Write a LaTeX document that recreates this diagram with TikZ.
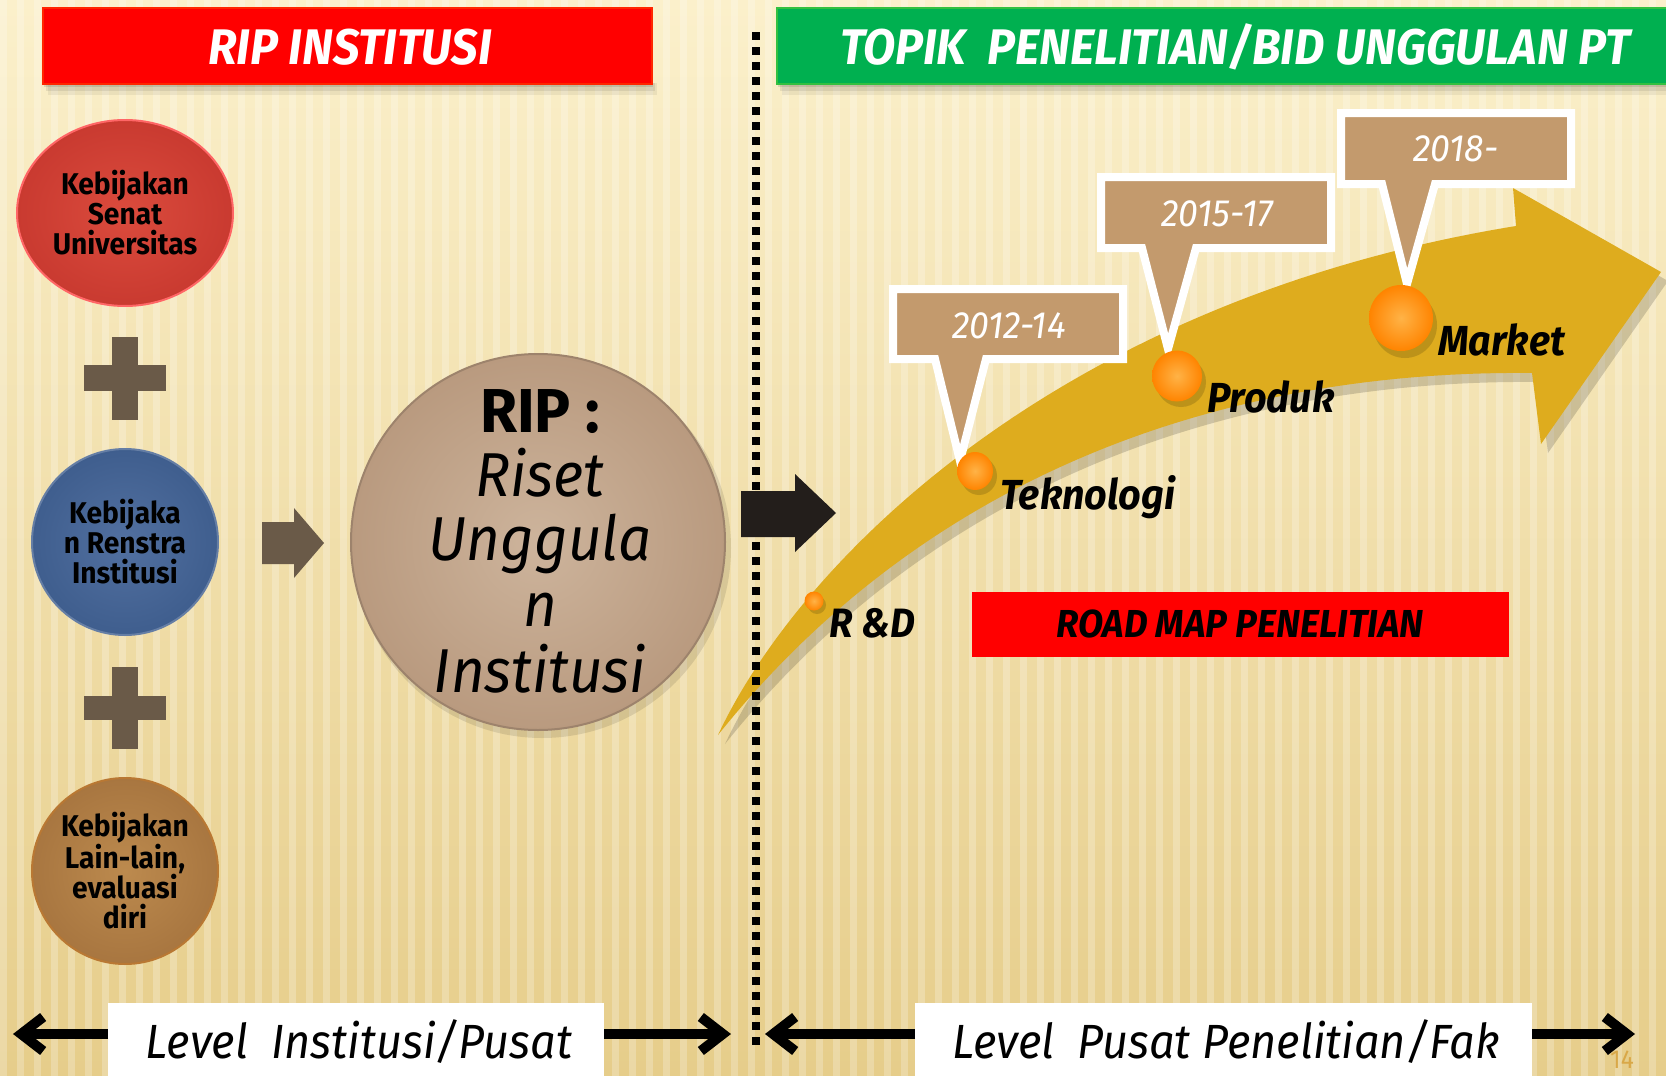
\documentclass[tikz,border=0pt]{standalone}
\usepackage{fontspec}
\setmainfont{Fira Sans}
\newfontfamily\condb[FakeStretch=0.94]{Fira Sans}
\newfontfamily\condu[FakeStretch=0.97]{Fira Sans}
\newfontfamily\plainf[FakeStretch=0.94]{Fira Sans}
\usetikzlibrary{arrows.meta,shapes.geometric}
\definecolor{bgtop}{HTML}{FBF0CB}
\definecolor{bgbot}{HTML}{E6CD8A}
\definecolor{hdrred}{HTML}{FF0000}
\definecolor{hdrgreen}{HTML}{00B050}
\definecolor{plusc}{HTML}{6A5A48}
\definecolor{darkarr}{HTML}{231E1B}
\definecolor{goldc}{HTML}{DEAC1E}
\definecolor{tanc}{HTML}{C39A6D}
\definecolor{ripin}{HTML}{CDB49C}
\definecolor{ripout}{HTML}{B99A7F}
\definecolor{redin}{HTML}{DB4B3D}
\definecolor{redout}{HTML}{C93A30}
\definecolor{bluein}{HTML}{5270A0}
\definecolor{blueout}{HTML}{3F5E8E}
\definecolor{brownin}{HTML}{BC8A4E}
\definecolor{brownout}{HTML}{A87640}
\definecolor{dotin}{HTML}{FFB347}
\definecolor{dotout}{HTML}{FF8400}
\definecolor{pagenum}{HTML}{D9A848}
\tikzset{
  hdr/.style={anchor=north west, inner sep=0pt, line width=1.5pt},
  bi/.style={font=\condb\bfseries\itshape\fontsize{#1}{#1}\selectfont},
  bu/.style={font=\condu\bfseries\fontsize{#1}{#1}\selectfont},
  it/.style={font=\plainf\itshape\fontsize{#1}{#1}\selectfont},
  policy/.style={ellipse, minimum width=186pt, minimum height=186pt, inner sep=0pt,
     align=center, font=\condb\bfseries\fontsize{30}{30}\selectfont, line width=2pt},
  orb/.style={ellipse, inner sep=0pt, inner color=dotin, outer color=dotout},
  callout/.style={fill=tanc, draw=white, line width=8pt, line join=miter},
  lvlbox/.style={fill=white, inner sep=0pt, anchor=north west},
  barrow/.style={line width=10pt, -{Straight Barb[length=22pt,width=34pt]}},
}
\begin{document}
\begin{tikzpicture}[x=1pt,y=-1pt]
\useasboundingbox (0,0) rectangle (1666,1076);
% background
\shade[top color=bgtop, bottom color=bgbot] (0,0) rectangle (1666,1076);
\foreach \i in {0,...,98} {
  \fill[white,opacity=0.24] ({17*\i},0) rectangle ({17*\i+7},1076);
}
% header shadows
\foreach \k/\o in {4/0.10,8/0.08,12/0.06} {
  \fill[black,opacity=\o] ({42+\k/2},83) rectangle ({651+\k/2},{83+\k});
  \fill[black,opacity=\o] ({776+\k/2},83) rectangle (1666,{83+\k});
}
% headers
\node[hdr, fill=hdrred, draw=red!70!orange, minimum width=609pt, minimum height=76pt] (riphdr) at (42,7) {};
\node[bi=50, white] (riptitle) at (350,47) {RIP INSTITUSI};
\node[hdr, fill=hdrgreen, draw=hdrgreen!80!yellow, minimum width=900pt, minimum height=76pt] (topikhdr) at (776,7) {};
\node[bi=50, white] (topiktitle) at (1235,47) {TOPIK\ \ PENELITIAN/BID UNGGULAN PT};
% policy ellipses
\node[policy, minimum width=216pt, inner color=redin, outer color=redout, draw=red!60!white] (senat) at (125,213) {Kebijakan\\Senat\\Universitas};
\node[policy, inner color=bluein, outer color=blueout, draw=blueout!80!white] (renstra) at (125,542) {Kebijaka\\n Renstra\\Institusi};
\node[policy, inner color=brownin, outer color=brownout, draw=brownout!80!orange] (lain) at (125,871) {Kebijakan\\Lain-lain,\\evaluasi\\diri};
% plus signs
\fill[plusc] (112,337) rectangle (138,420);
\fill[plusc] (84,365) rectangle (166,391);
\fill[plusc] (112,667) rectangle (138,749);
\fill[plusc] (84,696) rectangle (166,720);
% small arrow
\fill[plusc] (262,522) -- (294,522) -- (294,508) -- (324,543) -- (294,578) -- (294,564) -- (262,564) -- cycle;
% RIP circle
\fill[black,opacity=0.10] (542,548) ellipse [x radius=189pt, y radius=190pt];
\node[ellipse, minimum width=374pt, minimum height=376pt, inner sep=0pt, inner color=ripin, outer color=ripout, draw=ripout!85!black, line width=2pt] (rip) at (538,542) {};
\node[bu=62, anchor=base] (ripA) at (540,432) {RIP :};
\node[it=62, anchor=base] (ripB) at (540,496) {Riset};
\node[it=62, anchor=base] (ripC) at (540,560) {Unggula};
\node[it=62, anchor=base] (ripD) at (540,626) {n};
\node[it=62, anchor=base] (ripE) at (540,692) {Institusi};
% gold arrow shadow
\begin{scope}[shift={(7,9)}]
\fill[black,opacity=0.16] (718,735) .. controls (800,560) and (1060,300) .. (1516,226) -- (1513,188) -- (1661,272) -- (1541,444) -- (1532,373) .. controls (1230,370) and (930,470) .. (718,735) -- cycle;
\end{scope}
\fill[goldc] (718,735) .. controls (800,560) and (1060,300) .. (1516,226) -- (1513,188) -- (1661,272) -- (1541,444) -- (1532,373) .. controls (1230,370) and (930,470) .. (718,735) -- cycle;
% dotted divider
\coordinate (divtop) at (756,32);
\coordinate (divbot) at (756,1047);
\draw[line width=8pt, dash pattern=on 8pt off 7pt] (divtop) -- (divbot);
% black arrow
\fill[darkarr] (741,491) -- (795,491) -- (795,474) -- (836,513) -- (795,552) -- (795,537) -- (741,537) -- cycle;
% callouts
\draw[callout] (893,289) -- (1123,289) -- (1123,359) -- (986,359) -- (960,461) -- (935,359) -- (893,359) -- cycle;
\draw[callout] (1101,177) -- (1331,177) -- (1331,248) -- (1196,248) -- (1168,349) -- (1142,248) -- (1101,248) -- cycle;
\draw[callout] (1341,113) -- (1571,113) -- (1571,184) -- (1435,184) -- (1407,284) -- (1382,184) -- (1341,184) -- cycle;
\node[it=38, white, anchor=base] (y1) at (1009,338) {2012-14};
\node[it=38, white, anchor=base] (y2) at (1217,226) {2015-17};
\node[it=38, white, anchor=base] (y3) at (1456,161) {2018-};
% orbs
\fill[black,opacity=0.15] (817,605) circle [radius=9pt];
\fill[black,opacity=0.15] (979,476) ellipse [x radius=18pt, y radius=19pt];
\fill[black,opacity=0.15] (1181,382) ellipse [x radius=25pt, y radius=25pt];
\fill[black,opacity=0.15] (1405,325) ellipse [x radius=32pt, y radius=33pt];
\node[orb, minimum width=19pt, minimum height=19pt] (oRD) at (814,601) {};
\node[orb, minimum width=36pt, minimum height=38pt] (oTek) at (975,471) {};
\node[orb, minimum width=50pt, minimum height=51pt] (oPro) at (1177,376) {};
\node[orb, minimum width=64pt, minimum height=66pt] (oMar) at (1401,318) {};
% labels
\node[bi=41, anchor=base west, inner sep=0pt] (lRD) at (829,637) {R \&D};
\node[bi=42, anchor=base west, inner sep=0pt] (lTek) at (1000,509) {Teknologi};
\node[bi=42, anchor=base west, inner sep=0pt] (lPro) at (1207,412) {Produk};
\node[bi=42, anchor=base west, inner sep=0pt] (lMar) at (1438,355) {Market};
% road map box
\node[fill=hdrred, minimum width=537pt, minimum height=65pt, inner sep=0pt, bi=39] (roadmap) at (1240,624) {ROAD MAP PENELITIAN};
% bottom level boxes
\node[lvlbox, minimum width=496pt, minimum height=80pt] (lvl1) at (108,1003) {};
\node[it=48, anchor=base] (lvl1t) at (359,1058) {Level\ \ Institusi/Pusat};
\node[lvlbox, minimum width=617pt, minimum height=80pt] (lvl2) at (915,1003) {};
\node[it=48, anchor=base] (lvl2t) at (1226,1058) {Level\ \ Pusat Penelitian/Fak};
\coordinate (a1l) at (13,1034);
\coordinate (a1s) at (108,1034);
\coordinate (a1e) at (604,1034);
\coordinate (a1r) at (731,1034);
\coordinate (a2l) at (765,1034);
\coordinate (a2s) at (915,1034);
\coordinate (a2e) at (1532,1034);
\coordinate (a2r) at (1635,1034);
\draw[barrow] (a1s) -- (a1l);
\draw[barrow] (a1e) -- (a1r);
\draw[barrow] (a2s) -- (a2l);
\draw[barrow] (a2e) -- (a2r);
% page number
\node[font=\plainf\fontsize{26}{26}\selectfont, text=pagenum, anchor=base, inner sep=0pt] (pnum) at (1622,1068) {14};
\end{tikzpicture}
\end{document}
